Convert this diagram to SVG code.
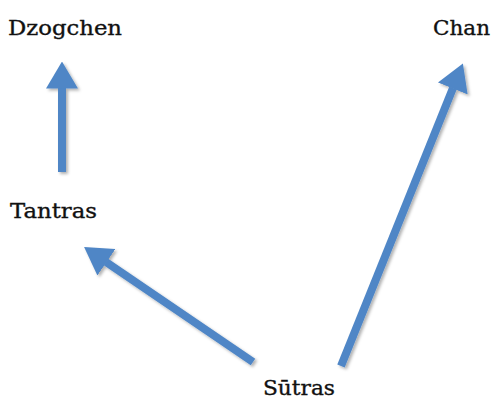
<svg xmlns="http://www.w3.org/2000/svg" width="491" height="401" viewBox="0 0 491 401">
<style>
.lbl{font-family:"DejaVu Serif","Liberation Serif",serif;font-size:20px;fill:#111;stroke:#111;stroke-width:0.35;}
.arr{stroke:#4F86C6;stroke-width:8;fill:none;marker-end:url(#head);}
</style>
<defs>
<marker id="head" markerUnits="userSpaceOnUse" viewBox="0 0 27 32" markerWidth="27" markerHeight="32" refX="0.5" refY="16" orient="auto">
<path d="M0,0 L27,16 L0,32 Z" fill="#4F86C6"/>
</marker>
<filter id="sh" x="-20%" y="-20%" width="140%" height="140%">
<feDropShadow dx="2" dy="2" stdDeviation="1.5" flood-color="#000" flood-opacity="0.3"/>
</filter>
</defs>
<rect width="491" height="401" fill="#fff"/>
<g id="connectors" filter="url(#sh)">
<line class="arr" x1="62" y1="172" x2="62" y2="88"/>
<line class="arr" x1="341" y1="366" x2="453" y2="88"/>
<line class="arr" x1="253" y1="362" x2="106" y2="262"/>
</g>
<g id="dzogchen"><text class="lbl" x="8" y="35" textLength="114" lengthAdjust="spacingAndGlyphs">Dzogchen</text></g>
<g id="chan"><text class="lbl" x="433" y="35" textLength="57" lengthAdjust="spacingAndGlyphs">Chan</text></g>
<g id="tantras"><text class="lbl" x="10" y="218" textLength="87" lengthAdjust="spacingAndGlyphs">Tantras</text></g>
<g id="sutras"><text class="lbl" x="263" y="395" textLength="72" lengthAdjust="spacingAndGlyphs">Sūtras</text></g>
</svg>
